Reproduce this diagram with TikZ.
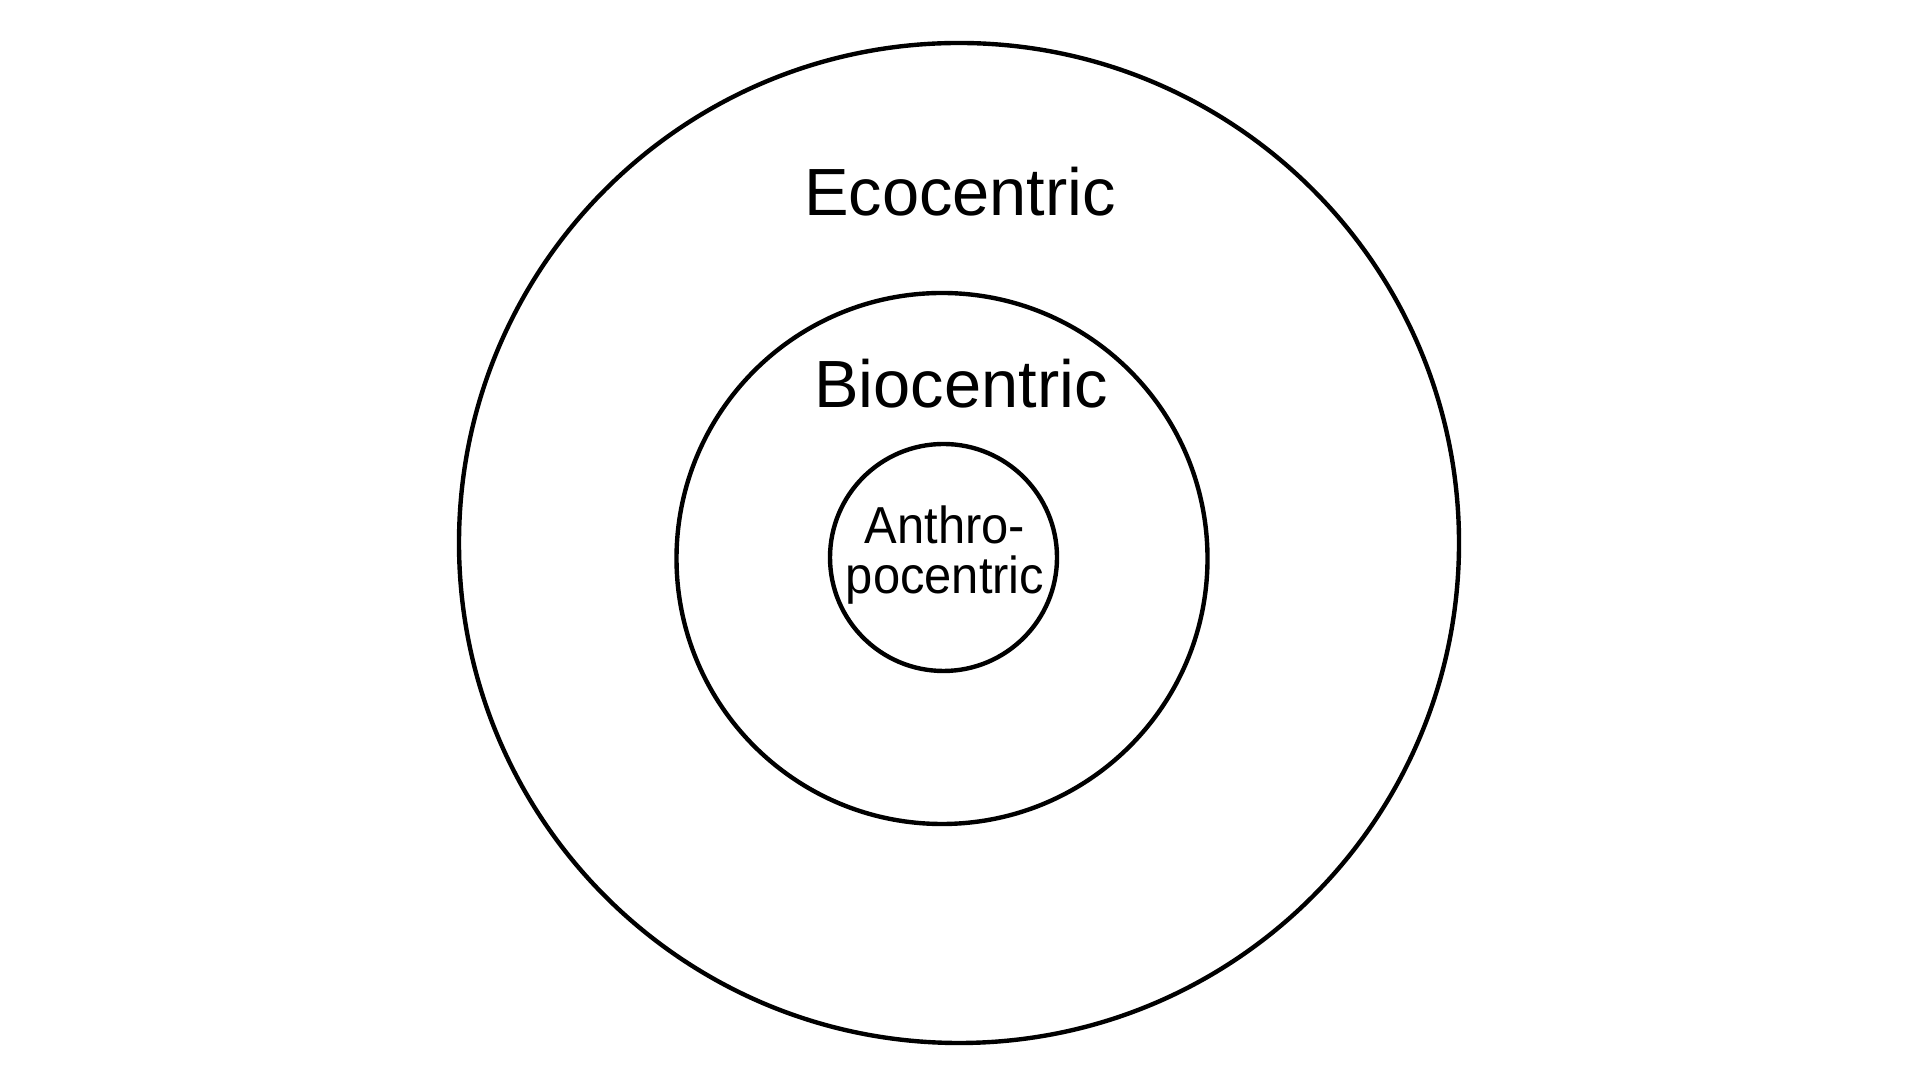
\documentclass[tikz,border=0pt]{standalone}
\usepackage{fontspec}
\setmainfont{Liberation Sans}
\newfontfamily\narrowsans[FakeStretch=0.94]{Liberation Sans}
\usetikzlibrary{positioning}
\tikzset{ring/.style={line width=1.25pt,line cap=round},
  lbl/.style={font=\fontsize{19}{23}\selectfont,anchor=base,inner sep=0pt}}

\begin{document}
\begin{tikzpicture}
  \useasboundingbox (0,0) rectangle (19.2,10.8);
  % three rings
  \draw[ring] (9.59,5.37) circle (5.00);
  \draw[ring] (9.42,5.215) circle (2.655);
  \draw[ring] (9.435,5.225) circle (1.135);
  % labels
  \node[lbl] (eco) at (9.60,8.64) {Ecocentric};
  \node[lbl] (bio) at (9.61,6.72) {Biocentric};
  \node[lbl,font=\narrowsans\fontsize{14.8}{14.4}\selectfont,align=center] (anthro) at (9.45,4.86) {Anthro-\\pocentric};
\end{tikzpicture}
\end{document}
